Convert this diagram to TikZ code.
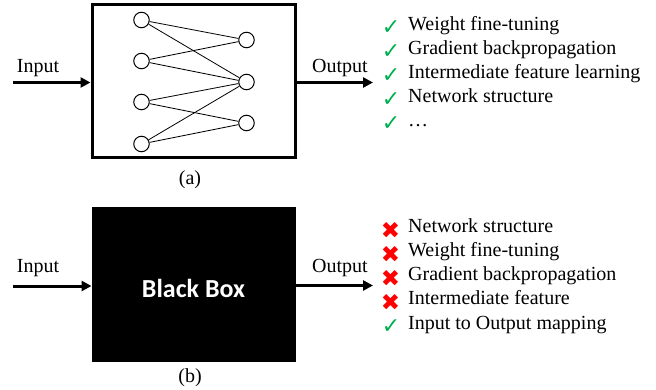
\documentclass[tikz,border=0pt]{standalone}
\usepackage{fontspec}
\setmainfont{Liberation Serif}
\newfontfamily\dvsym{DejaVu Sans}
\newfontfamily\bbfont{Carlito}
\usetikzlibrary{arrows.meta}
\definecolor{okgreen}{RGB}{0,176,80}
\definecolor{nored}{RGB}{255,0,0}
\begin{document}
\begin{tikzpicture}[x=1pt,y=-1pt,
  neuron/.style={circle,draw,line width=1pt,minimum size=15.5pt,inner sep=0},
  flow/.style={line width=3pt,-{Triangle[length=10pt,width=10pt]}},
  lbl/.style={font=\rmfamily\fontsize{20}{24}\selectfont,inner sep=0},
  listtext/.style={font=\rmfamily\fontsize{20}{24}\selectfont,anchor=mid west,inner sep=0},
  okmark/.style={font=\dvsym\fontsize{22}{22}\selectfont,text=okgreen,inner sep=0,anchor=center},
  nomark/.style={font=\dvsym\fontsize{23}{23}\selectfont,text=nored,inner sep=0,anchor=center},
  edge/.style={line width=0.8pt}
]
\useasboundingbox (0,0) rectangle (656,390);
% ---------- (a)
\node[draw,line width=3pt,minimum width=203pt,minimum height=153pt,inner sep=0] (boxa) at (193.5,81.5) {};
\node[neuron] (l1) at (141.5,20) {};
\node[neuron] (l2) at (141.5,61) {};
\node[neuron] (l3) at (141.5,102) {};
\node[neuron] (l4) at (141.5,144) {};
\node[neuron] (r1) at (246.5,40) {};
\node[neuron] (r2) at (246.5,82) {};
\node[neuron] (r3) at (246.5,123) {};
\foreach \a/\b in {l1/r1,l1/r2,l2/r1,l2/r2,l3/r2,l3/r3,l4/r2,l4/r3}
  \draw[edge] (\a) -- (\b);
\coordinate (ina) at (13,82.5);
\coordinate (outa) at (373,82.5);
\draw[flow] (ina) -- (ina -| boxa.west);
\draw[flow] (outa -| boxa.east) -- (outa);
\node[lbl] (inlbla) at (38,68) {Input};
\node[lbl] (outlbla) at (340,68) {Output};
\node[lbl] (capa) at (190,180) {(a)};
\foreach \y/\txt [count=\i] in {28.5/Weight fine-tuning,52.5/Gradient backpropagation,76.5/Intermediate feature learning,100.5/Network structure,124.5/\ldots}{
  \node[okmark] (ma\i) at (391,\y-0.5) {✓};
  \node[listtext] (ta\i) at (408,\y) {\txt};
}
% ---------- (b)
\node[fill=black,minimum width=204pt,minimum height=155pt,inner sep=0] (boxb) at (193.7,284.5) {};
\node[font=\bbfont\bfseries\fontsize{26}{30}\selectfont,text=white,inner sep=0] (bbt) at (193.5,288) {Black Box};
\coordinate (inb) at (13,286);
\coordinate (outb) at (373,285.5);
\draw[flow] (inb) -- (inb -| boxb.west);
\draw[flow] (outb -| boxb.east) -- (outb);
\node[lbl] (inlblb) at (38,268) {Input};
\node[lbl] (outlblb) at (340,268) {Output};
\node[lbl] (capb) at (190,378) {(b)};
\foreach \y/\txt [count=\i] in {230/Network structure,254.2/Weight fine-tuning,278.4/Gradient backpropagation,302.6/Intermediate feature}{
  \node[nomark] (mb\i) at (390.5,\y) {✖};
  \node[listtext] (tb\i) at (408,\y) {\txt};
}
\node[okmark] (mb5) at (391,326.3) {✓};
\node[listtext] (tb5) at (408,326.8) {Input to Output mapping};
\end{tikzpicture}
\end{document}
